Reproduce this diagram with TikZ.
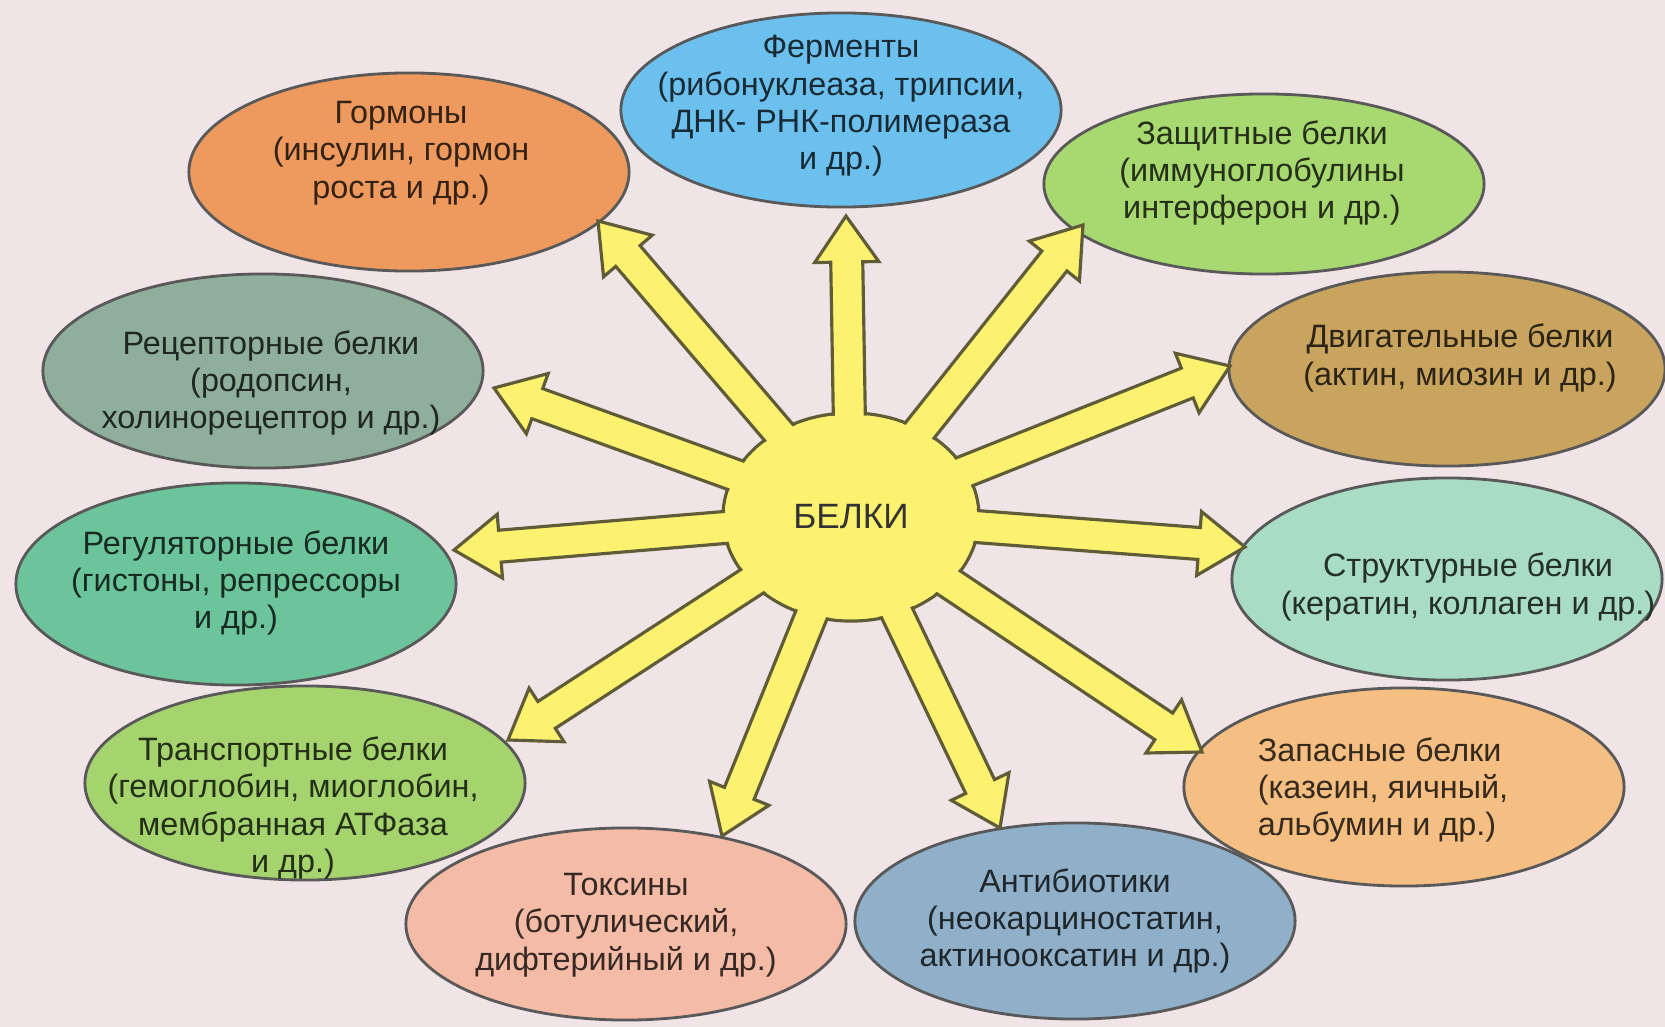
\documentclass[tikz,border=0pt]{standalone}
\usepackage{xcolor}
\usepackage{fontspec}
\setmainfont{Liberation Sans}
\usepackage{tikz}
\usetikzlibrary{shapes.geometric,positioning,calc}

\definecolor{bgpink}{RGB}{240,228,231}
\definecolor{sunyellow}{RGB}{252,242,112}
\definecolor{rayedge}{RGB}{95,92,55}
\definecolor{fermblue}{RGB}{108,192,238}
\definecolor{hormorange}{RGB}{238,154,94}
\definecolor{defgreen}{RGB}{168,216,112}
\definecolor{recgrey}{RGB}{143,175,156}
\definecolor{motochre}{RGB}{201,164,94}
\definecolor{reggreen}{RGB}{108,196,154}
\definecolor{strmint}{RGB}{168,220,196}
\definecolor{trgreen}{RGB}{165,212,110}
\definecolor{storpeach}{RGB}{245,190,130}
\definecolor{toxsalmon}{RGB}{244,187,166}
\definecolor{antigrey}{RGB}{143,176,200}

\newcommand{\shafthalf}{0.16cm}
\newcommand{\headhalf}{0.32cm}
\newcommand{\headlen}{0.46cm}

% block ray from the sun centre to a tip coordinate
\newcommand{\sunray}[1]{%
  \coordinate (hb) at ($(#1)!\headlen!(sun)$);
  \filldraw[ray] ($(sun)!\shafthalf!90:(#1)$) -- ($(hb)!\shafthalf!-90:(sun)$) -- ($(hb)!\headhalf!-90:(sun)$) -- (#1)
    -- ($(hb)!\headhalf!90:(sun)$) -- ($(hb)!\shafthalf!90:(sun)$) -- ($(sun)!\shafthalf!-90:(#1)$) -- cycle;
}

\begin{document}
\begin{tikzpicture}[x=0.01cm, y=-0.01cm,
    blob/.style={ellipse, draw=black!65, line width=0.8pt, fill=#1, minimum width=4.4cm, minimum height=1.94cm, inner sep=0pt},
    blobtext/.style={align=center, inner sep=0pt, text=#1!22!black, font=\fontsize{9.2}{10.6}\selectfont},
    ray/.style={fill=sunyellow, draw=rayedge, line width=0.9pt, line join=miter}]

    \fill[bgpink] (0,0) rectangle (1665,1027);
    \useasboundingbox (0,0) rectangle (1665,1027);

    % Functions - top row
    \node [blob=fermblue] (ferm) at (841,110) {};
    \node [blobtext=fermblue] (fermtext) at ($(ferm)+(0,-4)$) {Ферменты\\(рибонуклеаза, трипсии,\\ДНК- РНК-полимераза\\и др.)};

    \node [blob=hormorange, minimum height=1.98cm] (horm) at (409,172) {};
    \node [blobtext=hormorange] (hormtext) at ($(horm)+(-8,-19)$) {Гормоны\\(инсулин, гормон\\роста и др.)};

    \node [blob=defgreen, minimum height=1.8cm] (zasch) at (1264,184) {};
    \node [blobtext=defgreen] (zaschtext) at ($(zasch)+(-2,-11)$) {Защитные белки\\(иммуноглобулины\\интерферон и др.)};

    % Functions - left side
    \node [blob=recgrey] (rec) at (263,371) {};
    \node [blobtext=recgrey] (rectext) at ($(rec)+(8,12)$) {Рецепторные белки\\(родопсин,\\холинорецептор и др.)};

    \node [blob=reggreen, minimum height=2.02cm] (reg) at (236,584) {};
    \node [blobtext=reggreen] (regtext) at ($(reg)+(0,-1)$) {Регуляторные белки\\(гистоны, репрессоры\\и др.)};

    \node [blob=trgreen] (trans) at (305,783) {};
    \node [blobtext=trgreen] (transtext) at ($(trans)+(-12,25)$) {Транспортные белки\\(гемоглобин, миоглобин,\\мембранная АТФаза\\и др.)};

    % Functions - right side
    \node [blob=motochre, minimum width=4.36cm] (dvig) at (1447,369) {};
    \node [blobtext=motochre] (dvigtext) at ($(dvig)+(13,-11)$) {Двигательные белки\\(актин, миозин и др.)};

    \node [blob=strmint, minimum width=4.3cm, minimum height=2.02cm] (struct) at (1447,579) {};
    \node [blobtext=strmint] (structtext) at ($(struct)+(21,8)$) {Структурные белки\\(кератин, коллаген и др.)};

    \node [blob=storpeach, minimum height=1.98cm] (zap) at (1404,787) {};
    \node [blobtext=storpeach, align=left] (zaptext) at ($(zap)+(-21,3)$) {Запасные белки\\(казеин, яичный,\\альбумин и др.)};

    % Functions - bottom row
    \node [blob=toxsalmon, minimum height=1.92cm] (tox) at (626,924) {};
    \node [blobtext=toxsalmon] (toxtext) at ($(tox)+(0,1)$) {Токсины\\(ботулический,\\дифтерийный и др.)};

    \node [blob=antigrey, minimum height=1.96cm] (anti) at (1075,921) {};
    \node [blobtext=antigrey] (antitext) at ($(anti)+(0,0)$) {Антибиотики\\(неокарциностатин,\\актинооксатин и др.)};

    % Sun in the middle
    \coordinate (sun) at (851,517);
    \node [ellipse, fill=sunyellow, draw=rayedge, line width=0.9pt, minimum width=2.56cm, minimum height=2.08cm] (sunrim) at (sun) {};

    \coordinate (tferm) at (846,216);
    \coordinate (thorm) at (598,221);
    \coordinate (tzasch) at (1083,225);
    \coordinate (trec) at (494,388);
    \coordinate (tdvig) at (1230,366);
    \coordinate (treg) at (454,550);
    \coordinate (tstruct) at (1245,547);
    \coordinate (ttrans) at (508,740);
    \coordinate (tzap) at (1202,752);
    \coordinate (ttox) at (722,836);
    \coordinate (tanti) at (1000,828);

    \sunray{tferm}
    \sunray{thorm}
    \sunray{tzasch}
    \sunray{trec}
    \sunray{tdvig}
    \sunray{treg}
    \sunray{tstruct}
    \sunray{ttrans}
    \sunray{tzap}
    \sunray{ttox}
    \sunray{tanti}

    \node [ellipse, fill=sunyellow, minimum width=2.52cm, minimum height=2.04cm, text=black!80, font=\fontsize{10}{12}\selectfont] (core) at (sun) {БЕЛКИ};

\end{tikzpicture}
\end{document}
